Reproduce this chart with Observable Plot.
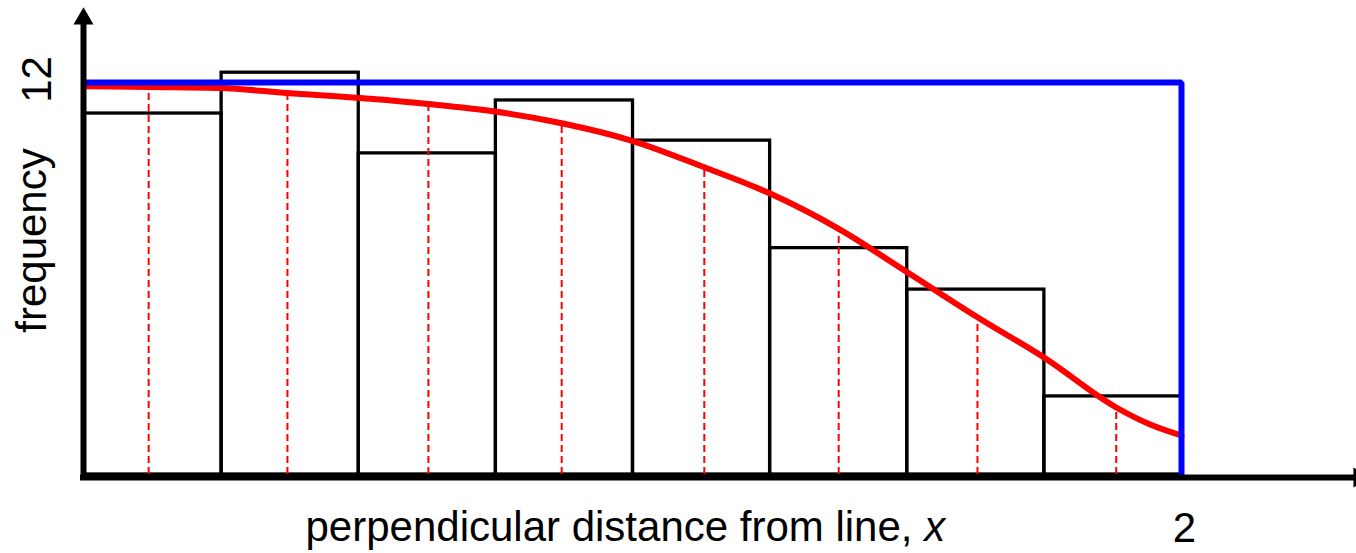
<!DOCTYPE html>
<html>
<head>
<meta charset="utf-8">
<script src="https://cdn.jsdelivr.net/npm/d3@7"></script>
<script src="https://cdn.jsdelivr.net/npm/@observablehq/plot@0.6"></script>
<style>
  html, body { margin: 0; padding: 0; background: #fff; }
  svg { display: block; }
</style>
</head>
<body>
<div id="chart"></div>
<script>
// Histogram bins (perpendicular distance) and observed frequencies
const binStarts = [0, 0.25, 0.5, 0.75, 1.0, 1.25, 1.5, 1.75];
const binEnds   = [0.25, 0.5, 0.75, 1.0, 1.25, 1.5, 1.75, 2.0];
const binFreq   = [11.05, 12.3, 9.83, 11.45, 10.22, 6.93, 5.66, 2.39];

// Fitted detection function (red curve)
const curveX = [0, 0.117, 0.248, 0.370, 0.521, 0.627, 0.748, 0.870, 0.997, 1.130, 1.251, 1.375, 1.500, 1.628, 1.752, 1.881, 1.943, 2.0];
const curveY = [11.886, 11.861, 11.830, 11.677, 11.500, 11.341, 11.112, 10.753, 10.224, 9.406, 8.592, 7.520, 6.192, 4.815, 3.551, 2.051, 1.530, 1.194];

// Dashed guides near the bin centres, up to the curve
const dashX   = [0.117, 0.370, 0.627, 0.870, 1.130, 1.375, 1.628, 1.881];
const dashTop = [11.861, 11.677, 11.341, 10.753, 9.406, 7.520, 4.815, 2.051];

// Uniform (blue) reference: constant at 12 up to truncation distance 2
const blueX = [0, 2, 2];
const blueY = [12, 12, 0];

// Tick labels and axis labels
const xTicks = [2];
const yTicks = [12];
const xLabel = "perpendicular distance from line, x";
const yLabel = "frequency";

// Axis extents (arrows)
const xAxisEnd = 2.324;
const yAxisEnd = 13.95;

const bars = binStarts.map((s, i) => ({x1: s, x2: binEnds[i], y: binFreq[i]}));
const curve = curveX.map((x, i) => ({x, y: curveY[i]}));
const dashes = dashX.map((x, i) => ({x, y: dashTop[i]}));
const blue = blueX.map((x, i) => ({x, y: blueY[i]}));

const font = "'Liberation Sans', Arial, Helvetica, sans-serif";

const plot = Plot.plot({
  width: 1356,
  height: 553,
  marginLeft: 84,
  marginRight: 175,
  marginTop: 82,
  marginBottom: 79,
  style: {fontFamily: font, background: "white"},
  x: {domain: [0, 2], axis: null},
  y: {domain: [0, 12], axis: null},
  marks: [
    Plot.rect(bars, {x1: "x1", x2: "x2", y1: 0, y2: "y", fill: "none", stroke: "black", strokeWidth: 3.3}),
    Plot.ruleX(dashes, {x: "x", y1: 0, y2: "y", stroke: "#ff0000", strokeWidth: 2, strokeDasharray: "7,4"}),
    Plot.line(curve, {x: "x", y: "y", stroke: "#ff0000", strokeWidth: 6, curve: "monotone-x"}),
    Plot.line(blue, {x: "x", y: "y", stroke: "#0000ff", strokeWidth: 6, strokeLinejoin: "miter"}),
    // axes
    Plot.ruleX([0], {y1: 0, y2: yAxisEnd, dx: -1, dy: 3, stroke: "black", strokeWidth: 6, strokeLinecap: "square"}),
    Plot.ruleY([0], {x1: 0, x2: xAxisEnd, dx: -1, dy: 3, stroke: "black", strokeWidth: 6, strokeLinecap: "square"}),
    Plot.dot([0], {x: 0, y: yAxisEnd, dx: -1, symbol: "triangle", r: 7.42, fill: "black", stroke: "none"}),
    Plot.dot([0], {x: xAxisEnd, y: 0, dy: 3, rotate: 90, symbol: "triangle", r: 7.42, fill: "black", stroke: "none"}),
    // tick labels
    Plot.text(yTicks, {y: d => d, frameAnchor: "left", dx: -47, dy: -3, rotate: -90, text: d => String(d), fontSize: 42, textAnchor: "middle", lineAnchor: "middle", fill: "black"}),
    Plot.text(xTicks, {x: d => d, frameAnchor: "bottom", dx: 3, dy: 54, text: d => String(d), fontSize: 42, textAnchor: "middle", lineAnchor: "middle", fill: "black"}),
    // axis labels
    Plot.text([yLabel], {frameAnchor: "left", dx: -52, dy: -38, rotate: -90, text: d => d, fontSize: 42, textAnchor: "middle", lineAnchor: "middle", fill: "black"}),
    Plot.text([xLabel], {frameAnchor: "bottom-left", dx: 221, dy: 66, text: d => d, fontSize: 42, textAnchor: "start", lineAnchor: "bottom", fill: "black"})
  ]
});

// Italicise the variable name "x" in the x label
d3.select(plot).selectAll("text").each(function() {
  if (this.textContent === xLabel) {
    const base = xLabel.slice(0, -1);
    const v = xLabel.slice(-1);
    const t = d3.select(this);
    t.text(base);
    t.append("tspan").attr("font-style", "italic").text(v);
    t.attr("xml:space", "preserve").style("white-space", "pre");
  }
});

document.getElementById("chart").appendChild(plot);
</script>
</body>
</html>
